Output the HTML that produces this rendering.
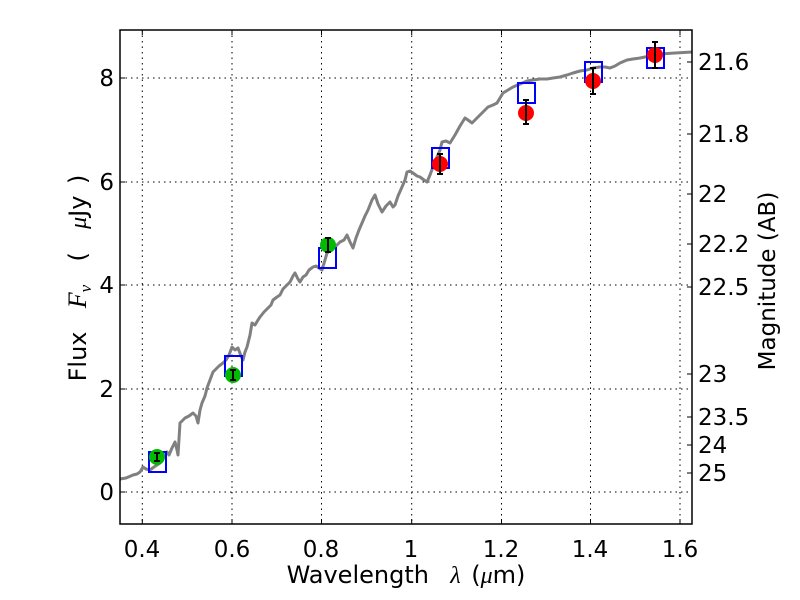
<!DOCTYPE html>
<html><head><meta charset="utf-8"><style>body{margin:0;background:#fff}svg{display:block}text{font-family:"DejaVu Sans","Liberation Sans",sans-serif;fill:#000}</style></head><body>
<svg width="800" height="600" viewBox="0 0 800 600">
<rect width="800" height="600" fill="#fff"/>
<g stroke="#000" stroke-width="1" stroke-dasharray="1.5,4">
<line x1="142.3" y1="30" x2="142.3" y2="524"/><line x1="232" y1="30" x2="232" y2="524"/><line x1="321.5" y1="30" x2="321.5" y2="524"/><line x1="411.7" y1="30" x2="411.7" y2="524"/><line x1="501.5" y1="30" x2="501.5" y2="524"/><line x1="590.5" y1="30" x2="590.5" y2="524"/><line x1="680" y1="30" x2="680" y2="524"/>
<line x1="120" y1="78" x2="692" y2="78"/><line x1="120" y1="182" x2="692" y2="182"/><line x1="120" y1="285" x2="692" y2="285"/><line x1="120" y1="389" x2="692" y2="389"/><line x1="120" y1="492" x2="692" y2="492"/>
</g>
<polyline fill="none" stroke="#808080" stroke-width="3" stroke-linejoin="round" points="120,479 126,478 133,475 137,474 140,472 143,467 146,469 150,470 154,467 157,465 160,463 163,458 167,452 169,455 172,448 175,442 177,450 178,455 180,423 183,420 185,418 189,416 193,413 196,416 198,423 200,410 202,403 205,396 207,388 210,380 213,372 216,369 219,366 223,363 226,360 229,355 232,347 235,350 238,348 241,356 243,360 245,352 247,347 250,335 252,323 255,325 258,320 260,317 264,312 268,308 271,305 273,300 277,297 280,295 283,289 287,285 290,282 293,276 295,273 298,279 300,282 303,277 306,275 309,270 313,267 316,266 319,268 322,270 325,260 327,253 331,250 335,247 340,242 344,240 347,235 350,242 353,248 356,238 359,230 362,223 365,216 368,210 372,200 375,195 378,204 382,212 386,206 390,202 393,207 395,205 398,196 402,187 405,180 407,172 410,171 413,173 417,176 420,177 424,180 427,182 430,175 433,167 437,157 440,150 442,142 446,141 450,143 455,135 460,126 465,118 468,120 472,123 476,119 480,115 484,111 488,107 493,105 497,103 500,98 503,93 508,90 513,87 520,84 527,81 533,80 540,79 547,79 553,78 560,77 567,75 573,73 580,71 587,70 593,68 600,67 605,67 610,68 615,66 620,63 627,60 633,59 640,58 650,56 660,54 675,53 692,52"/>
<g fill="none" stroke="#0000ff" stroke-width="2">
<rect x="149" y="452" width="17" height="20"/><rect x="225" y="356" width="17" height="20"/><rect x="319" y="248" width="17" height="20"/><rect x="432" y="148" width="17" height="20"/><rect x="518" y="83" width="17" height="20"/><rect x="585" y="62" width="17" height="20"/><rect x="647" y="48" width="17" height="20"/>
</g>
<g fill="#00bb00"><circle cx="157" cy="457" r="8"/><circle cx="233" cy="375" r="8"/><circle cx="328" cy="245" r="8"/></g>
<g fill="#ff0000"><circle cx="440" cy="164" r="8"/><circle cx="526" cy="113" r="8"/><circle cx="593" cy="81" r="8"/><circle cx="655" cy="55" r="8"/></g>
<g stroke="#000" stroke-width="2">
<path d="M157,453V461M154,453H160M154,461H160"/>
<path d="M233,370V380M230,370H236M230,380H236"/>
<path d="M328,238V252M325,238H331M325,252H331"/>
<path d="M440,154V174M437,154H443M437,174H443"/>
<path d="M526,100V124M523,100H529M523,124H529"/>
<path d="M593,68V94M590,68H596M590,94H596"/>
<path d="M655,42V68M652,42H658M652,68H658"/>
</g>
<g stroke="#000" stroke-width="1">
<path d="M142.3,524v-5M232,524v-5M321.5,524v-5M411.7,524v-5M501.5,524v-5M590.5,524v-5M680,524v-5M142.3,30v5M232,30v5M321.5,30v5M411.7,30v5M501.5,30v5M590.5,30v5M680,30v5"/>
<path d="M120,78h5M120,182h5M120,285h5M120,389h5M120,492h5"/>
<path d="M692,62h-5M692,134h-5M692,194h-5M692,244h-5M692,287h-5M692,374h-5M692,417h-5M692,445h-5M692,473h-5"/>
</g>
<rect x="120" y="30" width="572" height="494" fill="none" stroke="#000" stroke-width="1.5"/>
<g font-size="23" text-anchor="middle">
<text x="142" y="557">0.4</text><text x="232" y="557">0.6</text><text x="321" y="557">0.8</text><text x="411" y="557">1</text><text x="501" y="557">1.2</text><text x="590" y="557">1.4</text><text x="680" y="557">1.6</text>
</g>
<g font-size="23" text-anchor="end">
<text x="114" y="86">8</text><text x="114" y="190">6</text><text x="114" y="293">4</text><text x="114" y="397">2</text><text x="114" y="500">0</text>
</g>
<g font-size="23">
<text x="698" y="70">21.6</text><text x="698" y="142">21.8</text><text x="698" y="202">22</text><text x="698" y="252">22.2</text><text x="698" y="295">22.5</text><text x="698" y="382">23</text><text x="698" y="425">23.5</text><text x="698" y="453">24</text><text x="698" y="481">25</text>
</g>
<text x="406" y="583" font-size="24" text-anchor="middle" xml:space="preserve" word-spacing="3">Wavelength  <tspan font-family="Liberation Serif,serif" font-style="italic">λ</tspan> (<tspan font-family="Liberation Serif,serif" font-style="italic">μ</tspan>m)</text>
<text transform="translate(86,278) rotate(-90)" font-size="24" text-anchor="middle" xml:space="preserve" word-spacing="4">Flux  <tspan font-family="Liberation Serif,serif" font-style="italic" font-size="26">F<tspan font-size="17" dy="5">ν</tspan></tspan><tspan dy="-5">  (  </tspan><tspan font-family="Liberation Serif,serif" font-style="italic">μ</tspan>Jy )</text>
<text transform="translate(775,281) rotate(-90)" font-size="23" text-anchor="middle">Magnitude (AB)</text>
</svg>
</body></html>
